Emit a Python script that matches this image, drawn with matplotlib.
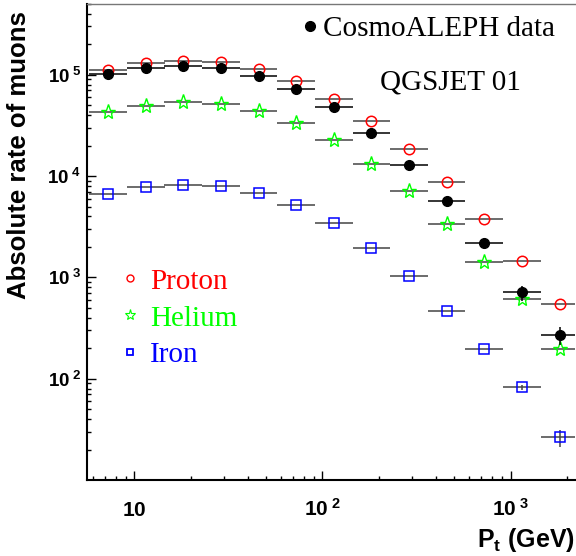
import numpy as np
import matplotlib
matplotlib.use("Agg")
import matplotlib.pyplot as plt
from matplotlib.lines import Line2D
from matplotlib.ticker import LogLocator, NullFormatter, FixedLocator

plt.rcParams['mathtext.fontset'] = 'custom'
plt.rcParams['mathtext.rm'] = 'Liberation Sans:bold'
plt.rcParams['mathtext.bf'] = 'Liberation Sans:bold'
plt.rcParams['mathtext.it'] = 'Liberation Sans:bold'

# bin centres in Pt (GeV), bins are 0.2 decade wide
pt = [7.24, 11.5, 18.2, 28.8, 45.7, 72.4, 115, 182, 288, 457, 724, 1148, 1820]
half_dec = 0.1

data = [1.01e5, 1.18e5, 1.23e5, 1.18e5, 9.8e4, 7.3e4, 4.77e4, 2.67e4, 1.30e4, 5.64e3, 2.20e3, 711, 270]
data_err = [0, 0, 0, 0, 0, 0, 0, 0, 0, 150, 150, 120, 55]
proton = [1.125e5, 1.31e5, 1.37e5, 1.33e5, 1.13e5, 8.7e4, 5.78e4, 3.51e4, 1.85e4, 8.67e3, 3.74e3, 1.46e3, 548]
helium = [4.25e4, 4.93e4, 5.36e4, 5.11e4, 4.40e4, 3.38e4, 2.26e4, 1.33e4, 7.06e3, 3.37e3, 1.43e3, 614, 198]
iron = [6.61e3, 7.74e3, 8.21e3, 7.92e3, 6.76e3, 5.18e3, 3.42e3, 1.97e3, 1.04e3, 471, 195, 82, 26.4]
iron_err = [0, 0, 0, 0, 0, 0, 0, 0, 0, 0, 0, 4, 5]

pt = np.array(pt)
xlo = pt - pt / 10 ** half_dec
xhi = pt * 10 ** half_dec - pt

fig = plt.figure(figsize=(5.76, 5.56), dpi=100)
ax = fig.add_axes([87 / 576, 76 / 556, 488 / 576, 476 / 556])
ax.set_xscale('log')
ax.set_yscale('log')

mc_line = '#444444'
ax.errorbar(pt, proton, xerr=[xlo, xhi], fmt='o', ms=7.5, mfc='none', mec='red',
            mew=1.1, ecolor=mc_line, elinewidth=1.1, capsize=0, zorder=3)
ax.errorbar(pt, helium, xerr=[xlo, xhi], fmt='*', ms=11, mfc='none', mec='#00ff00',
            mew=1.0, ecolor=mc_line, elinewidth=1.1, capsize=0, zorder=3)
ax.errorbar(pt, iron, xerr=[xlo, xhi], yerr=iron_err, fmt='s', ms=7, mfc='none', mec='blue',
            mew=1.1, ecolor=mc_line, elinewidth=1.1, capsize=0, zorder=3)
ax.errorbar(pt, data, xerr=[xlo, xhi], yerr=data_err, fmt='o', ms=7, mfc='black', mec='black',
            ecolor='black', elinewidth=1.1, capsize=0, zorder=4)

ax.set_xlim(5.6, 2200)
ax.set_ylim(10, 5e5)

# ticks
ax.xaxis.set_major_locator(FixedLocator([10, 100, 1000]))
ax.set_xticklabels([r'$10$', r'$10^{\ 2}$', r'$10^{\ 3}$'])
ax.xaxis.set_minor_locator(LogLocator(base=10, subs=np.arange(2, 10)))
ax.xaxis.set_minor_formatter(NullFormatter())
ax.yaxis.set_major_locator(FixedLocator([1e2, 1e3, 1e4, 1e5]))
ax.set_yticklabels([r'$10^{\ 2}$', r'$10^{\ 3}$', r'$10^{\ 4}$', r'$10^{\ 5}$'])
ax.yaxis.set_minor_locator(LogLocator(base=10, subs=np.arange(2, 10)))
ax.yaxis.set_minor_formatter(NullFormatter())

ax.tick_params(which='both', direction='in', width=1.0, top=False, right=False)
ax.tick_params(which='major', length=6.5)
ax.tick_params(which='minor', length=3.2)
ax.tick_params(axis='x', which='major', labelsize=15, pad=26)
ax.tick_params(axis='y', which='major', labelsize=13.5, pad=4)
plt.setp(ax.get_xticklabels(), va='baseline')

for s in ['left', 'bottom']:
    ax.spines[s].set_linewidth(1.5)
ax.spines['top'].set_color('#777777')
ax.spines['top'].set_linewidth(1.0)
ax.spines['right'].set_visible(False)

ax.set_ylabel('Absolute rate of muons', fontsize=18.5, fontweight='bold',
              family='Liberation Sans')
ax.yaxis.set_label_coords(-0.115, 0.683)
ax.set_xlabel(r'P$_{\mathregular{t}}$ (GeV)', fontsize=18, fontweight='bold',
              family='Liberation Sans', ha='right')
ax.xaxis.set_label_coords(1.0, -0.097)

serif = 'Liberation Serif'
# data legend
h_data = Line2D([], [], ls='none', marker='o', ms=7, color='black')
leg1 = ax.legend([h_data], ['CosmoALEPH data'], loc='upper left',
                 bbox_to_anchor=(0.4385, 0.975), frameon=False, borderpad=0,
                 borderaxespad=0, handlelength=0.6, handletextpad=0.16,
                 prop={'family': serif, 'size': 21})
ax.add_artist(leg1)

ax.text(0.745, 0.836, 'QGSJET 01', transform=ax.transAxes, ha='center', va='center',
        family=serif, fontsize=21)

# MC legend
labels = ['Proton', 'Helium', 'Iron']
colors = ['red', '#00ff00', 'blue']
hands = [Line2D([], [], ls='none', marker='o', ms=5, mfc='none', mec='red', mew=1.0),
         Line2D([], [], ls='none', marker='*', ms=8, mfc='none', mec='#00ff00', mew=0.8),
         Line2D([], [], ls='none', marker='s', ms=4.5, mfc='none', mec='blue', mew=1.3)]
leg2 = ax.legend(hands, labels, loc='upper left', bbox_to_anchor=(0.0697, 0.445),
                 frameon=False, borderpad=0, borderaxespad=0, handlelength=0.6,
                 handletextpad=0.4, labelspacing=0.36,
                 prop={'family': serif, 'size': 21})
for t, c in zip(leg2.get_texts(), colors):
    t.set_color(c)

fig.savefig('out.png', dpi=100)
